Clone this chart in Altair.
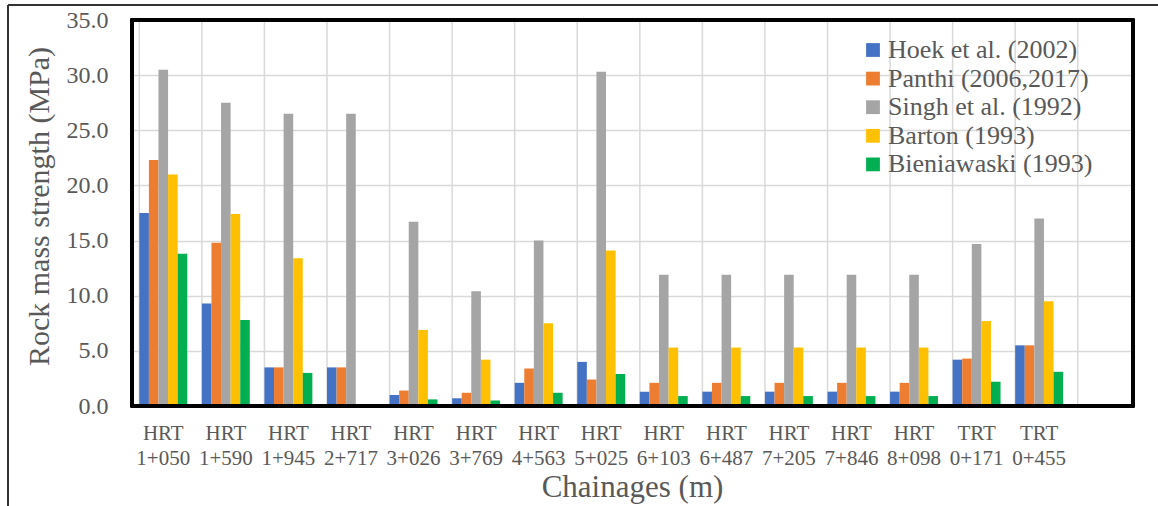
import altair as alt
import pandas as pd

# Chainage positions along the tunnels (the last slot is left empty)
chainages = [
    "HRT 1+050", "HRT 1+590", "HRT 1+945", "HRT 2+717", "HRT 3+026",
    "HRT 3+769", "HRT 4+563", "HRT 5+025", "HRT 6+103", "HRT 6+487",
    "HRT 7+205", "HRT 7+846", "HRT 8+098", "TRT 0+171", "TRT 0+455",
]
slots = chainages + [" "]

methods = [
    "Hoek et al. (2002)",
    "Panthi (2006,2017)",
    "Singh et al. (1992)",
    "Barton (1993)",
    "Bieniawaski (1993)",
]
colors = ["#4472C4", "#ED7D31", "#A5A5A5", "#FFC000", "#00B050"]

# Rock mass strength (MPa) per method and chainage
hoek = [17.5, 9.3, 3.5, 3.5, 1.0, 0.7, 2.1, 4.0, 1.3, 1.3, 1.3, 1.3, 1.3, 4.2, 5.5]
panthi = [22.3, 14.8, 3.5, 3.5, 1.4, 1.2, 3.4, 2.4, 2.1, 2.1, 2.1, 2.1, 2.1, 4.3, 5.5]
singh = [30.5, 27.5, 26.5, 26.5, 16.7, 10.4, 15.0, 30.3, 11.9, 11.9, 11.9, 11.9, 11.9, 14.7, 17.0]
barton = [21.0, 17.4, 13.4, 0.0, 6.9, 4.2, 7.5, 14.1, 5.3, 5.3, 5.3, 5.3, 5.3, 7.7, 9.5]
bieniawski = [13.8, 7.8, 3.0, 0.0, 0.6, 0.5, 1.2, 2.9, 0.9, 0.9, 0.9, 0.9, 0.9, 2.2, 3.1]

series = [hoek, panthi, singh, barton, bieniawski]
rows = []
for name, vals in zip(methods, series):
    for ch, v in zip(chainages, vals):
        rows.append({"chainage": ch, "method": name, "value": v})
df = pd.DataFrame(rows)
grid_df = pd.DataFrame({"chainage": slots})

FONT = "Liberation Serif"
TEXT = "#595959"
GRID = "#D9D9D9"

x_scale = alt.Scale(domain=slots, paddingInner=0.234, paddingOuter=0.117)

x_axis = alt.Axis(
    bandPosition=0.5,
    labelAngle=0,
    labelAlign="center",
    labelBaseline="top",
    labelExpr="split(datum.label, ' ')",
    labelFont=FONT,
    labelFontSize=21,
    labelColor=TEXT,
    labelLineHeight=25,
    labelPadding=16,
    labelOverlap=False,
    ticks=False,
    domain=False,
    grid=False,
    titleFont=FONT,
    titleFontSize=31,
    titleFontWeight="normal",
    titleColor=TEXT,
    titleX=500,
    titleY=81,
    titleBaseline="middle",
)

bars = alt.Chart(df).mark_bar().encode(
    x=alt.X("chainage:N", scale=x_scale, sort=slots, title="Chainages (m)", axis=x_axis),
    xOffset=alt.XOffset("method:N", sort=methods),
    y=alt.Y(
        "value:Q",
        scale=alt.Scale(domain=[0, 35], nice=False),
        title="Rock mass strength (MPa)",
        axis=alt.Axis(
            values=[0, 5, 10, 15, 20, 25, 30, 35],
            format=".1f",
            labelFont=FONT,
            labelFontSize=24,
            labelColor=TEXT,
            labelPadding=24,
            ticks=False,
            domain=False,
            grid=True,
            gridColor=GRID,
            gridWidth=1.5,
            titleFont=FONT,
            titleFontSize=30,
            titleFontWeight="normal",
            titleColor=TEXT,
            titleX=-93,
            titleY=186,
            titleAngle=-90,
            titleAlign="center",
            titleBaseline="middle",
        ),
    ),
    color=alt.Color(
        "method:N",
        sort=methods,
        scale=alt.Scale(domain=methods, range=colors),
        legend=alt.Legend(
            title=None,
            orient="none",
            legendX=728,
            legendY=17,
            symbolType="square",
            symbolSize=190,
            symbolStrokeWidth=0,
            labelFont=FONT,
            labelFontSize=26,
            labelColor=TEXT,
            labelLimit=400,
            labelOffset=2,
            rowPadding=2.6,
        ),
    ),
)

# Vertical separators between chainage groups (sit in the gaps between bars)
vgrid = alt.Chart(grid_df).mark_rule(color=GRID, strokeWidth=1.5).encode(
    x=alt.X("chainage:N", bandPosition=0, scale=x_scale, sort=slots,
            title="Chainages (m)", axis=x_axis),
)

# Plot-area border
border = alt.Chart(grid_df).mark_rect(
    fill=None, stroke="black", strokeWidth=2.5
).encode(
    x=alt.value(0), x2=alt.value(1001), y=alt.value(0), y2=alt.value(386)
)

# Outer frame (top and left edges)
frame_top = alt.Chart(grid_df).mark_rule(color="#333333", strokeWidth=2).encode(
    x=alt.value(-124), x2=alt.value(1040), y=alt.value(-15)
)
frame_left = alt.Chart(grid_df).mark_rule(color="#333333", strokeWidth=2).encode(
    x=alt.value(-124), y=alt.value(-15), y2=alt.value(500)
)

chart = (
    alt.layer(vgrid, bars, border, frame_top, frame_left)
    .properties(
        width=1001,
        height=386,
        autosize=alt.AutoSizeParams(type="none"),
        padding={"left": 132, "top": 20, "right": 25, "bottom": 100},
        background="white",
    )
    .configure_view(strokeWidth=0)
)

chart.save("out.html", embed_options={"renderer": "svg", "actions": False})
